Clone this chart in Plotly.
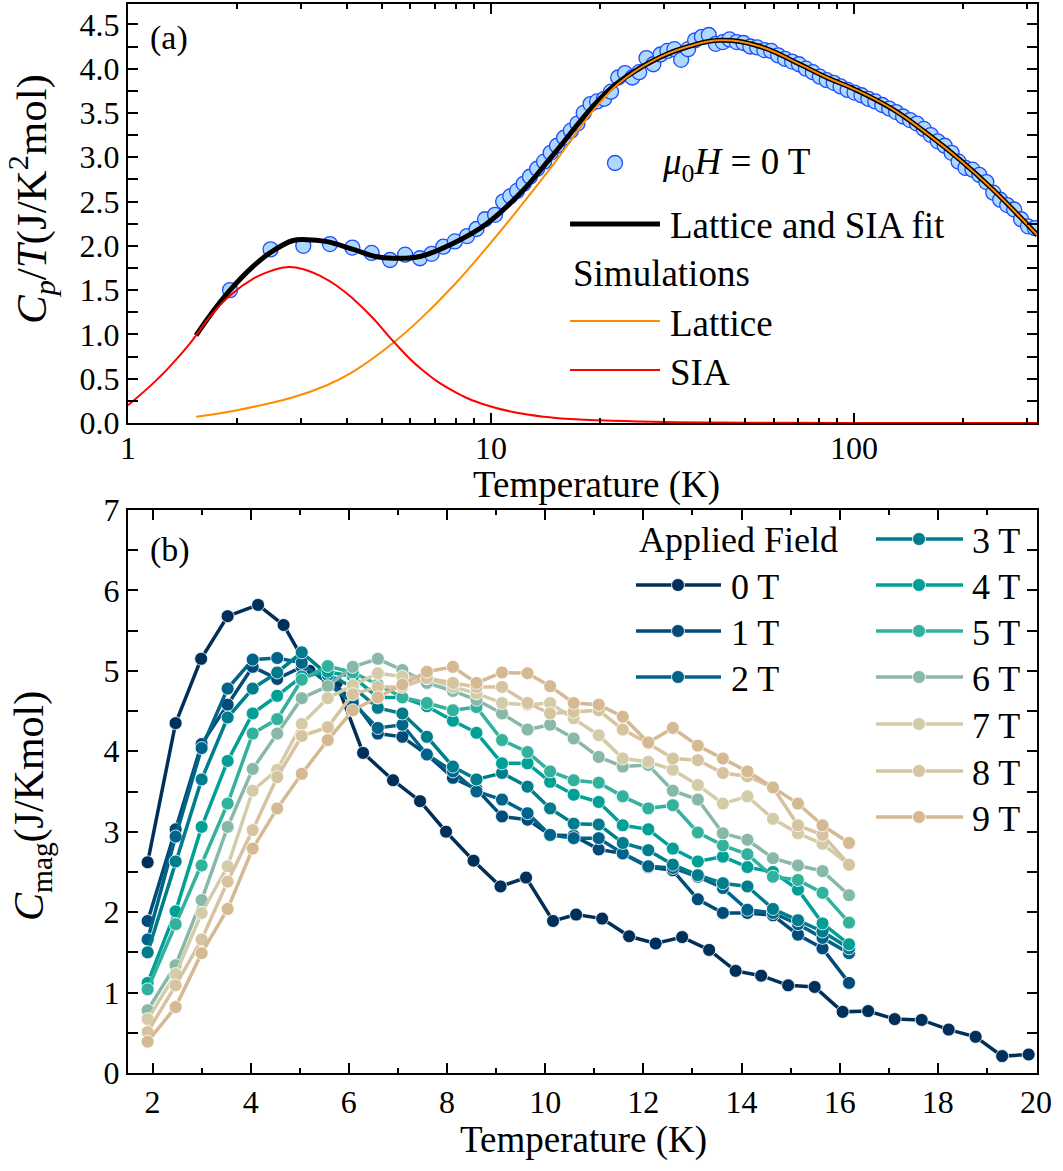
import plotly.graph_objects as go

W, H = 1063, 1171
FONT = "Liberation Serif"

# ---------------- panel (a): Cp/T vs T (log) ----------------
meas_T = [1.91, 2.47, 3.04, 3.60, 4.15, 4.69, 5.27, 5.80, 6.37, 6.86, 7.39, 7.95, 8.59, 9.12, 9.63, 10.26,
          10.8, 11.3, 11.8, 12.3, 12.8, 13.4, 14.0, 14.6, 15.2, 15.9, 16.6, 17.3, 18.0, 18.8, 19.6,
          20.5, 21.4, 22.4, 23.4, 24.5, 25.6, 26.8, 28.0, 29.3, 30.6, 32.0, 33.4, 34.9, 36.5, 38.1,
          39.8, 41.6, 43.5, 45.4, 47.5, 49.6, 51.8, 54.1, 56.6, 59.1, 61.8, 64.6, 67.5, 70.5, 73.7,
          77.0, 80.5, 84.1, 87.9, 91.8, 96.0, 100.3, 104.8, 109.5, 114.4, 119.6, 125.0, 130.6, 136.5,
          142.6, 149.0, 155.7, 162.7, 170.1, 177.7, 185.7, 194.1, 202.8, 212.0, 221.5, 231.5, 241.9,
          252.8, 264.2, 276.1, 288.5, 301.5, 315.0]
meas_C = [1.50, 1.96, 2.00, 2.02, 1.98, 1.92, 1.84, 1.90, 1.86, 1.91, 1.99, 2.05, 2.11, 2.19, 2.30, 2.35,
          2.50, 2.56, 2.62, 2.70, 2.78, 2.87, 2.95, 3.05, 3.13, 3.22, 3.30, 3.38, 3.50, 3.60, 3.63,
          3.66, 3.74, 3.90, 3.95, 3.90, 3.96, 4.12, 4.05, 4.16, 4.20, 4.22, 4.10, 4.22, 4.32, 4.36,
          4.38, 4.28, 4.30, 4.33, 4.30, 4.29, 4.25, 4.24, 4.21, 4.20, 4.15, 4.11, 4.08, 4.05, 4.00,
          3.96, 3.91, 3.87, 3.84, 3.80, 3.76, 3.73, 3.70, 3.66, 3.63, 3.59, 3.55, 3.51, 3.46,
          3.42, 3.38, 3.32, 3.25, 3.18, 3.13, 3.05, 2.95, 2.88, 2.86, 2.80, 2.72, 2.60,
          2.52, 2.46, 2.41, 2.30, 2.22, 2.20]

fit_T = [1.54, 1.70, 1.91, 2.20, 2.46, 2.85, 3.11, 3.50, 4.175, 4.80, 5.38, 6.374, 7.876, 9.728, 12.02,
         14.85, 19.97, 23.6, 29.2, 35.0, 42.7, 55.1, 70.0, 84.1, 100.0, 128.0, 158.6, 196.0, 242.0, 320.0]
fit_C = [0.99, 1.24, 1.50, 1.76, 1.92, 2.06, 2.07, 2.05, 1.96, 1.88, 1.86, 1.88, 2.03, 2.25, 2.59,
         3.03, 3.66, 3.91, 4.13, 4.25, 4.32, 4.25, 4.06, 3.90, 3.77, 3.54, 3.27, 2.97, 2.63, 2.12]

lat_T = [1.54, 2.0, 2.85, 3.50, 4.175, 5.36, 6.374, 7.876, 9.728, 12.02, 14.85, 19.97, 23.6, 29.2, 35.0,
         42.7, 55.1, 70.0, 84.1, 100.0, 128.0, 158.6, 196.0, 242.0, 320.0]
lat_C = [0.071, 0.145, 0.29, 0.42, 0.58, 0.90, 1.17, 1.55, 1.98, 2.44, 2.92, 3.62, 3.90, 4.13, 4.25,
         4.32, 4.25, 4.06, 3.90, 3.77, 3.54, 3.27, 2.97, 2.63, 2.12]

sia_T = [1.00, 1.174, 1.305, 1.482, 1.682, 1.910, 2.214, 2.488, 2.765, 3.073, 3.381, 3.757, 4.175, 4.740,
         5.360, 6.374, 7.876, 9.728, 12.02, 14.85, 19.97, 30.0, 50.0, 100.0, 320.0]
sia_C = [0.20, 0.45, 0.64, 0.90, 1.20, 1.44, 1.63, 1.72, 1.76, 1.73, 1.66, 1.55, 1.40, 1.18,
         0.93, 0.62, 0.36, 0.20, 0.11, 0.06, 0.03, 0.012, 0.004, 0.001, 0.0]

# ---------------- panel (b): Cmag vs T ----------------
T_0T = [1.90, 2.47, 2.99, 3.53, 4.15, 4.67, 5.20, 5.75, 6.29, 6.90, 7.45, 7.98, 8.54, 9.09, 9.61, 10.16,
        10.63, 11.16, 11.71, 12.25, 12.79, 13.34, 13.88, 14.40, 14.95, 15.49, 16.06, 16.58, 17.12, 17.67,
        18.22, 18.77, 19.31, 19.85]
C_0T = [2.62, 4.35, 5.15, 5.68, 5.82, 5.57, 5.00, 4.85, 3.98, 3.64, 3.38, 3.00, 2.64, 2.32, 2.43, 1.89,
        1.97, 1.92, 1.70, 1.61, 1.69, 1.53, 1.27, 1.21, 1.09, 1.07, 0.76, 0.77, 0.67, 0.66,
        0.54, 0.45, 0.21, 0.23]

T_field = [1.9, 2.47, 3.0, 3.53, 4.04, 4.54, 5.04, 5.57, 6.08, 6.59, 7.09, 7.59, 8.12, 8.6, 9.12, 9.64,
           10.1, 10.58, 11.09, 11.58, 12.1, 12.6, 13.11, 13.62, 14.12, 14.64, 15.15, 15.65, 16.19]
C_1T = [1.89, 3.03, 4.09, 4.58, 5.05, 4.90, 5.05, 4.89, 4.64, 4.22, 4.18, 3.96, 3.67, 3.53, 3.19, 3.15,
        2.96, 2.95, 2.78, 2.73, 2.56, 2.52, 2.16, 1.99, 1.99, 1.96, 1.72, 1.55, 1.12]
C_2T = [1.66, 2.94, 4.04, 4.78, 5.14, 5.16, 5.10, 4.85, 4.60, 4.29, 4.33, 3.96, 3.75, 3.50, 3.40, 3.23,
        2.96, 2.92, 2.92, 2.73, 2.57, 2.55, 2.44, 2.30, 2.03, 1.99, 1.85, 1.68, 1.49]
C_3T = [1.50, 2.63, 3.65, 4.42, 4.78, 4.98, 5.23, 4.95, 4.80, 4.54, 4.47, 4.18, 3.81, 3.65, 3.73, 3.56,
        3.29, 3.10, 3.09, 2.86, 2.77, 2.59, 2.46, 2.36, 2.32, 2.04, 1.90, 1.76, 1.55]
C_4T = [1.12, 2.01, 3.06, 3.88, 4.47, 4.69, 4.93, 4.99, 4.93, 4.67, 4.67, 4.56, 4.38, 4.23, 3.85, 3.85,
        3.62, 3.46, 3.37, 3.08, 3.03, 2.79, 2.63, 2.69, 2.56, 2.50, 2.28, 1.86, 1.60]
C_5T = [1.04, 1.85, 2.58, 3.35, 4.22, 4.40, 4.89, 5.06, 4.98, 4.83, 4.67, 4.60, 4.51, 4.55, 4.14, 3.99,
        3.75, 3.64, 3.61, 3.44, 3.29, 3.33, 2.99, 2.83, 2.72, 2.44, 2.40, 2.24, 1.87]
C_6T = [0.78, 1.34, 2.15, 3.06, 3.78, 4.22, 4.66, 4.81, 5.05, 5.15, 5.01, 4.85, 4.75, 4.64, 4.47, 4.27,
        4.33, 4.16, 3.93, 3.81, 3.83, 3.51, 3.40, 2.98, 2.90, 2.67, 2.58, 2.51, 2.21]
C_7T = [0.67, 1.23, 1.99, 2.57, 3.51, 3.77, 4.34, 4.66, 4.82, 4.97, 4.93, 4.91, 4.80, 4.72, 4.60, 4.58,
        4.60, 4.41, 4.20, 3.91, 3.87, 3.77, 3.58, 3.35, 3.44, 3.16, 2.98, 2.85, 2.59]
C_8T = [0.51, 1.09, 1.66, 2.38, 3.02, 3.68, 4.19, 4.30, 4.71, 4.80, 4.80, 4.91, 4.85, 4.80, 4.80, 4.60,
        4.47, 4.49, 4.51, 4.27, 4.10, 3.91, 3.89, 3.73, 3.69, 3.55, 3.08, 2.96, 2.59]
C_9T = [0.39, 0.82, 1.49, 2.04, 2.79, 3.29, 3.72, 4.14, 4.51, 4.67, 4.83, 4.99, 5.05, 4.85, 4.98, 4.97,
        4.81, 4.60, 4.58, 4.43, 4.11, 4.29, 4.07, 3.91, 3.75, 3.55, 3.35, 3.08, 2.86]

field_labels = ["0 T", "1 T", "2 T", "3 T", "4 T", "5 T", "6 T", "7 T", "8 T", "9 T"]
field_colors = ["#00305a", "#004b78", "#00648a", "#007d8c", "#00a096",
                "#32b29c", "#88b9a8", "#d3cca8", "#d6c3a0", "#d5b993"]

# ---------------- figure ----------------
def px_x(x):
    return x / W

def px_y(y):
    return 1 - y / H

fig = go.Figure()

fig.add_trace(go.Scatter(x=meas_T, y=meas_C, mode="markers", xaxis="x", yaxis="y",
                         marker=dict(size=15, color="#aed9ff", line=dict(color="#1f4cff", width=1.3)),
                         showlegend=False))
fig.add_trace(go.Scatter(x=fit_T, y=fit_C, mode="lines", xaxis="x", yaxis="y",
                         line=dict(color="black", width=5, shape="spline", smoothing=1.2), showlegend=False))
fig.add_trace(go.Scatter(x=lat_T, y=lat_C, mode="lines", xaxis="x", yaxis="y",
                         line=dict(color="#ff8c00", width=2, shape="spline", smoothing=1.3), showlegend=False))
fig.add_trace(go.Scatter(x=sia_T, y=sia_C, mode="lines", xaxis="x", yaxis="y",
                         line=dict(color="#ff0000", width=2, shape="spline", smoothing=1.3), showlegend=False))

series = [(T_0T, C_0T)] + [(T_field, c) for c in (C_1T, C_2T, C_3T, C_4T, C_5T, C_6T, C_7T, C_8T, C_9T)]
for (tx, cy), lab, col in zip(series, field_labels, field_colors):
    fig.add_trace(go.Scatter(x=tx, y=cy, mode="lines+markers", xaxis="x2", yaxis="y2", name=lab,
                             line=dict(color=col, width=3.5),
                             marker=dict(size=13, color=col, line=dict(color="white", width=0.8)),
                             showlegend=False))

axis_common = dict(showline=True, linecolor="black", linewidth=2, mirror="ticks",
                   ticks="inside", tickcolor="black", tickwidth=1.5, ticklen=10,
                   showgrid=False, zeroline=False, automargin=False,
                   tickfont=dict(family=FONT, size=32, color="black"))

fig.update_layout(
    width=W, height=H, margin=dict(l=0, r=0, t=0, b=0),
    paper_bgcolor="white", plot_bgcolor="white",
    font=dict(family=FONT, color="black"),
    xaxis=dict(domain=[px_x(128), px_x(1037)], anchor="y", type="log", range=[0, 2.504],
               tickvals=[1, 10, 100], ticktext=["1", "10", "100"], ticklabelstandoff=-4,
               minor=dict(ticks="inside", ticklen=5, tickwidth=1.5, tickcolor="black",
                          tickvals=[2, 3, 4, 5, 6, 7, 8, 9, 20, 30, 40, 50, 60, 70, 80, 90, 200, 300]),
               **axis_common),
    yaxis=dict(domain=[px_y(423), px_y(4)], anchor="x", range=[0, 4.73],
               tick0=0, dtick=0.5, tickformat=".1f",
               minor=dict(ticks="inside", ticklen=10, tickwidth=1.5, tickcolor="black", dtick=0.25, tick0=0),
               **axis_common),
    xaxis2=dict(domain=[px_x(128), px_x(1037)], anchor="y2", range=[1.5, 20.02],
                tick0=0, dtick=2,
                minor=dict(ticks="inside", ticklen=5, tickwidth=1.5, tickcolor="black", dtick=1, tick0=0),
                **axis_common),
    yaxis2=dict(domain=[px_y(1073), px_y(510)], anchor="x2", range=[0, 7],
                tick0=0, dtick=1,
                minor=dict(ticks="inside", ticklen=10, tickwidth=1.5, tickcolor="black", dtick=0.5, tick0=0),
                **axis_common),
)

ann = []
shapes = []

def text(x, y, s, size=36, xanchor="left", angle=0):
    ann.append(dict(x=px_x(x), y=px_y(y), xref="paper", yref="paper", text=s, showarrow=False,
                    xanchor=xanchor, yanchor="middle", textangle=angle,
                    font=dict(family=FONT, size=size, color="black")))

def hline(x0, x1, y, color, width):
    shapes.append(dict(type="line", xref="paper", yref="paper", x0=px_x(x0), x1=px_x(x1),
                       y0=px_y(y), y1=px_y(y), line=dict(color=color, width=width)))

def dot(cx, cy, r, fill, edge, ew):
    shapes.append(dict(type="circle", xref="paper", yref="paper",
                       x0=px_x(cx - r), x1=px_x(cx + r), y0=px_y(cy + r), y1=px_y(cy - r),
                       fillcolor=fill, line=dict(color=edge, width=ew)))

# axis titles
text(32, 199, "<i>C<sub>p</sub></i>/<i>T</i>(J/K<sup>2</sup>mol)", size=43, xanchor="center", angle=-90)
text(596, 485, "Temperature (K)", size=37, xanchor="center")
text(32, 806, "<i>C</i><sub>mag</sub>(J/Kmol)", size=42, xanchor="center", angle=-90)
text(583, 1140, "Temperature (K)", size=37, xanchor="center")

# panel labels
text(148, 38, "(a)", size=34)
text(148, 550, "(b)", size=34)

# legend panel (a)
dot(615, 163, 7.5, "#aed9ff", "#1f4cff", 1.3)
text(660, 165, "<i>μ</i><sub>0</sub><i>H</i> = 0 T", size=37)
hline(570, 660, 224, "black", 5)
text(668, 226, "Lattice and SIA fit", size=37)
text(571, 274, "Simulations", size=37)
hline(570, 660, 321, "#ff8c00", 2)
text(668, 323, "Lattice", size=37)
hline(570, 660, 370, "#ff0000", 2)
text(668, 372, "SIA", size=37)

# legend panel (b)
text(637, 540, "Applied Field", size=36)
col1 = [(0, 585), (1, 631), (2, 677)]
col2 = [(3, 539), (4, 585), (5, 631), (6, 677), (7, 724), (8, 771), (9, 817)]
for i, y in col1:
    hline(636, 721, y, field_colors[i], 3.5)
    dot(678, y, 6.5, field_colors[i], "white", 0.8)
    text(729, y + 2, field_labels[i], size=36)
for i, y in col2:
    hline(876, 963, y, field_colors[i], 3.5)
    dot(919, y, 6.5, field_colors[i], "white", 0.8)
    text(970, y + 2, field_labels[i], size=36)

fig.update_layout(annotations=ann, shapes=shapes)
fig.write_html("out.html")
